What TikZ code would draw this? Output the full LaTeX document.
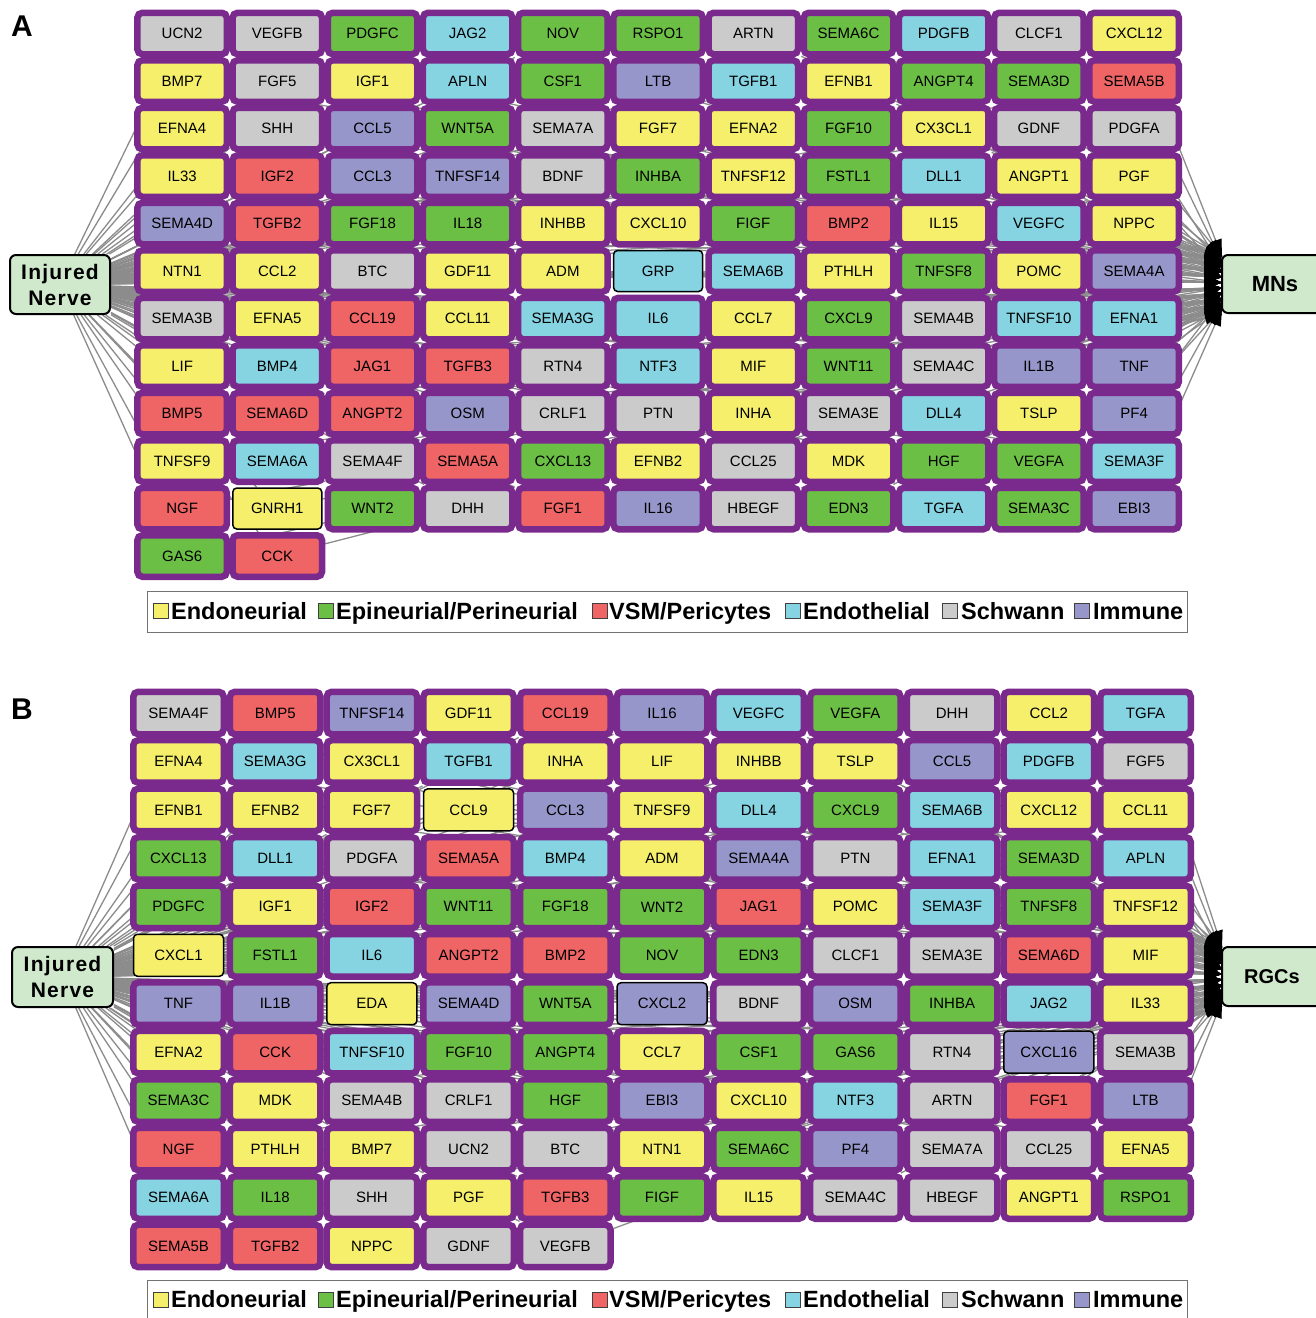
\documentclass[tikz,border=0pt]{standalone}
\usepackage{fontspec}
\setmainfont{Liberation Sans}
\usetikzlibrary{arrows.meta,backgrounds,calc}
\pgfdeclarelayer{bottom}
\pgfdeclarelayer{tips}
\pgfsetlayers{bottom,background,tips,main}
\definecolor{cY}{HTML}{F5EF6C}
\definecolor{cG}{HTML}{6CBF45}
\definecolor{cR}{HTML}{EF6465}
\definecolor{cC}{HTML}{86D3E2}
\definecolor{cS}{HTML}{CBCBCB}
\definecolor{cI}{HTML}{9696CA}
\definecolor{cP}{HTML}{7A2A8C}
\definecolor{cN}{HTML}{D0E8CC}
\definecolor{edgegray}{HTML}{8C8C8C}
\newcommand{\genefont}{\fontsize{15}{15}\selectfont}
\tikzset{
  gene/.style={rectangle, rounded corners=5pt, draw=cP, line width=\glw, minimum width=\gw, minimum height=\gh, inner sep=0pt, font=\genefont},
  genehi/.style={rectangle, rounded corners=4pt, draw=black, line width=1.5pt, minimum width=\hw, minimum height=\hh, inner sep=0pt, font=\genefont},
  gY/.style={gene,fill=cY}, gG/.style={gene,fill=cG}, gR/.style={gene,fill=cR},
  gC/.style={gene,fill=cC}, gS/.style={gene,fill=cS}, gI/.style={gene,fill=cI},
  hY/.style={genehi,fill=cY}, hC/.style={genehi,fill=cC}, hI/.style={genehi,fill=cI},
  target/.style={rectangle, rounded corners=6pt, draw=black, line width=2pt, fill=cN, inner sep=0pt, align=center},
  srcfont/.style={font=\bfseries\fontsize{21}{26}\selectfont\addfontfeature{LetterSpace=6}},
  link/.style={draw=edgegray, line width=1.3pt},
  tipmark/.style={draw=black, line width=1pt, -{Triangle[length=17pt,width=12pt,color=black]}},
  legbox/.style={draw=black!55, line width=1pt, fill=white, inner sep=0pt},
  legsq/.style={draw=black!75, line width=0.8pt, minimum size=15pt, inner sep=0pt},
  legtext/.style={anchor=base west, font=\bfseries\fontsize{23.5}{23.5}\selectfont, inner sep=0pt},
  paneltag/.style={font=\bfseries\fontsize{30}{30}\selectfont, inner sep=0pt},
}
\newcommand{\generow}[2]{%
  \foreach \gname/\st [count=\ci from 0] in {#2} {%
    \node[\st] (\pnl-#1-\ci) at ({\xo+\xp*\ci},{\yo+\yp*(#1-1)}) {\gname};
    \begin{pgfonlayer}{background}
      \draw[link] (\pnl-in) -- (\pnl-#1-\ci);
      \draw[link] (\pnl-#1-\ci) -- (\pnl-m-#1);
    \end{pgfonlayer}
    \begin{pgfonlayer}{tips}
      \draw[tipmark] ($(\pnl-m-#1)!17.5pt!(\pnl-#1-\ci)$) -- (\pnl-m-#1);
    \end{pgfonlayer}
  }%
}
\newcommand{\legendrow}[2]{% #1 square centre y, #2 baseline y
  \node[legsq, fill=cY] (\pnl-q1) at (161,#1) {};
  \node[legtext] (\pnl-t1) at (171,#2) {Endoneurial};
  \node[legsq, fill=cG] (\pnl-q2) at (326,#1) {};
  \node[legtext] (\pnl-t2) at (336,#2) {Epineurial/Perineurial};
  \node[legsq, fill=cR] (\pnl-q3) at (600,#1) {};
  \node[legtext] (\pnl-t3) at (609,#2) {VSM/Pericytes};
  \node[legsq, fill=cC] (\pnl-q4) at (793,#1) {};
  \node[legtext] (\pnl-t4) at (803,#2) {Endothelial};
  \node[legsq, fill=cS] (\pnl-q5) at (950,#1) {};
  \node[legtext] (\pnl-t5) at (961,#2) {Schwann};
  \node[legsq, fill=cI] (\pnl-q6) at (1082,#1) {};
  \node[legtext] (\pnl-t6) at (1093,#2) {Immune};
}
\begin{document}
\begin{tikzpicture}[x=1pt,y=-1pt]
\useasboundingbox (0,0) rectangle (1316,1318);
\begin{pgfonlayer}{bottom}
  \fill[white] (0,0) rectangle (1316,1318);
\end{pgfonlayer}

% ---------------- Panel A ----------------
\def\pnl{A}
\def\xo{182.1}\def\xp{95.2}\def\yo{33.5}\def\yp{47.5}
\def\gw{89.5pt}\def\gh{41.5pt}\def\glw{6.5pt}\def\hw{89pt}\def\hh{41pt}
\node[paneltag] (A-tag) at (22,26) {A};
\node[target, srcfont, minimum width=100pt, minimum height=59pt] (A-in) at (60,284.5) {Injured\\Nerve};
\node[target, font=\bfseries\fontsize{22}{22}\selectfont, minimum width=106pt, minimum height=58pt] (A-out) at (1275,284) {MNs};
\foreach \r in {1,...,12} {\coordinate (A-m-\r) at (1222,{284+0.11*(\yo+\yp*(\r-1)-284)});}
\generow{1}{UCN2/gS, VEGFB/gS, PDGFC/gG, JAG2/gC, NOV/gG, RSPO1/gG, ARTN/gS, SEMA6C/gG, PDGFB/gC, CLCF1/gS, CXCL12/gY}
\generow{2}{BMP7/gY, FGF5/gS, IGF1/gY, APLN/gC, CSF1/gG, LTB/gI, TGFB1/gC, EFNB1/gY, ANGPT4/gG, SEMA3D/gG, SEMA5B/gR}
\generow{3}{EFNA4/gY, SHH/gS, CCL5/gI, WNT5A/gG, SEMA7A/gS, FGF7/gY, EFNA2/gY, FGF10/gG, CX3CL1/gY, GDNF/gS, PDGFA/gS}
\generow{4}{IL33/gY, IGF2/gR, CCL3/gI, TNFSF14/gI, BDNF/gS, INHBA/gG, TNFSF12/gY, FSTL1/gG, DLL1/gC, ANGPT1/gY, PGF/gY}
\generow{5}{SEMA4D/gI, TGFB2/gR, FGF18/gG, IL18/gG, INHBB/gY, CXCL10/gY, FIGF/gG, BMP2/gR, IL15/gY, VEGFC/gC, NPPC/gY}
\generow{6}{NTN1/gY, CCL2/gY, BTC/gS, GDF11/gY, ADM/gY, GRP/hC, SEMA6B/gC, PTHLH/gY, TNFSF8/gG, POMC/gY, SEMA4A/gI}
\generow{7}{SEMA3B/gS, EFNA5/gY, CCL19/gR, CCL11/gY, SEMA3G/gC, IL6/gC, CCL7/gY, CXCL9/gG, SEMA4B/gS, TNFSF10/gC, EFNA1/gC}
\generow{8}{LIF/gY, BMP4/gC, JAG1/gR, TGFB3/gR, RTN4/gS, NTF3/gC, MIF/gY, WNT11/gG, SEMA4C/gS, IL1B/gI, TNF/gI}
\generow{9}{BMP5/gR, SEMA6D/gR, ANGPT2/gR, OSM/gI, CRLF1/gS, PTN/gS, INHA/gY, SEMA3E/gS, DLL4/gC, TSLP/gY, PF4/gI}
\generow{10}{TNFSF9/gY, SEMA6A/gC, SEMA4F/gS, SEMA5A/gR, CXCL13/gG, EFNB2/gY, CCL25/gS, MDK/gY, HGF/gG, VEGFA/gG, SEMA3F/gC}
\generow{11}{NGF/gR, GNRH1/hY, WNT2/gG, DHH/gS, FGF1/gR, IL16/gI, HBEGF/gS, EDN3/gG, TGFA/gC, SEMA3C/gG, EBI3/gI}
\generow{12}{GAS6/gG, CCK/gR}
\node[legbox, minimum width=1040pt, minimum height=41pt, anchor=north west] (A-leg) at (147,591) {};
\legendrow{611}{619}

% ---------------- Panel B ----------------
\def\pnl{B}
\def\xo{178.5}\def\xp{96.7}\def\yo{713}\def\yp{48.45}
\def\gw{90.5pt}\def\gh{42.5pt}\def\glw{6.5pt}\def\hw{90pt}\def\hh{42pt}
\node[paneltag] (B-tag) at (22,709) {B};
\node[target, srcfont, minimum width=101pt, minimum height=60pt] (B-in) at (62.5,977) {Injured\\Nerve};
\node[target, font=\bfseries\fontsize{20}{20}\selectfont, minimum width=100pt, minimum height=59pt] (B-out) at (1272,976.5) {RGCs};
\foreach \r in {1,...,12} {\coordinate (B-m-\r) at (1222,{976.5+0.11*(\yo+\yp*(\r-1)-976.5)});}
\generow{1}{SEMA4F/gS, BMP5/gR, TNFSF14/gI, GDF11/gY, CCL19/gR, IL16/gI, VEGFC/gC, VEGFA/gG, DHH/gS, CCL2/gY, TGFA/gC}
\generow{2}{EFNA4/gY, SEMA3G/gC, CX3CL1/gY, TGFB1/gC, INHA/gY, LIF/gY, INHBB/gY, TSLP/gY, CCL5/gI, PDGFB/gC, FGF5/gS}
\generow{3}{EFNB1/gY, EFNB2/gY, FGF7/gY, CCL9/hY, CCL3/gI, TNFSF9/gY, DLL4/gC, CXCL9/gG, SEMA6B/gC, CXCL12/gY, CCL11/gY}
\generow{4}{CXCL13/gG, DLL1/gC, PDGFA/gS, SEMA5A/gR, BMP4/gC, ADM/gY, SEMA4A/gI, PTN/gS, EFNA1/gC, SEMA3D/gG, APLN/gC}
\generow{5}{PDGFC/gG, IGF1/gY, IGF2/gR, WNT11/gG, FGF18/gG, WNT2/gG, JAG1/gR, POMC/gY, SEMA3F/gC, TNFSF8/gG, TNFSF12/gY}
\generow{6}{CXCL1/hY, FSTL1/gG, IL6/gC, ANGPT2/gR, BMP2/gR, NOV/gG, EDN3/gG, CLCF1/gS, SEMA3E/gS, SEMA6D/gR, MIF/gY}
\generow{7}{TNF/gI, IL1B/gI, EDA/hY, SEMA4D/gI, WNT5A/gG, CXCL2/hI, BDNF/gS, OSM/gI, INHBA/gG, JAG2/gC, IL33/gY}
\generow{8}{EFNA2/gY, CCK/gR, TNFSF10/gC, FGF10/gG, ANGPT4/gG, CCL7/gY, CSF1/gG, GAS6/gG, RTN4/gS, CXCL16/hI, SEMA3B/gS}
\generow{9}{SEMA3C/gG, MDK/gY, SEMA4B/gS, CRLF1/gS, HGF/gG, EBI3/gI, CXCL10/gY, NTF3/gC, ARTN/gS, FGF1/gR, LTB/gI}
\generow{10}{NGF/gR, PTHLH/gY, BMP7/gY, UCN2/gS, BTC/gS, NTN1/gY, SEMA6C/gG, PF4/gI, SEMA7A/gS, CCL25/gS, EFNA5/gY}
\generow{11}{SEMA6A/gC, IL18/gG, SHH/gS, PGF/gY, TGFB3/gR, FIGF/gG, IL15/gY, SEMA4C/gS, HBEGF/gS, ANGPT1/gY, RSPO1/gG}
\generow{12}{SEMA5B/gR, TGFB2/gR, NPPC/gY, GDNF/gS, VEGFB/gS}
\node[legbox, minimum width=1040pt, minimum height=45pt, anchor=north west] (B-leg) at (147,1280) {};
\legendrow{1299.5}{1307}
\end{tikzpicture}
\end{document}
